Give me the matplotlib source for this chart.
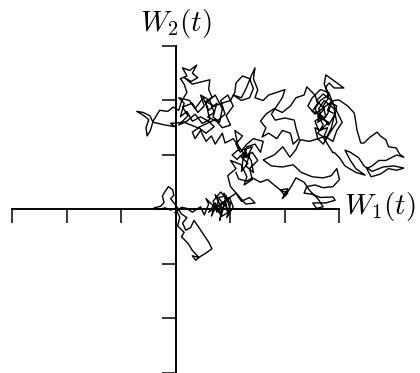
import matplotlib
matplotlib.use("Agg")
import matplotlib.pyplot as plt

plt.rcParams['mathtext.fontset'] = 'cm'

# path of the 2-d Brownian motion (W1, W2)
w1 = [0, 0.07, 0.03, 0.15, 0.1, 0.22, 0.3, 0.42, 0.3, 0.36, 0.45, 0.55, 0.66, 0.6, 0.5, 0.42, 0.33, 0.27, 0.18, 0.12, 0.2, 0.1, 0.02,
      -0.1, -0.2, -0.32, -0.4, -0.28, -0.22, -0.25, -0.2, -0.14, -0.06, -0.04, -0.1, -0.02, 0.05, -0.02, 0.1,
      0.2, 0.3, 0.45, 0.52, 0.6, 0.55, 0.7, 0.65, 0.78, 0.72, 0.85, 0.8, 0.9, 0.95, 0.88, 1.0, 0.93, 1.05, 0.98, 0.85, 0.75, 0.68, 0.82, 0.95,
      0.6, 0.72, 0.8, 0.88, 0.78, 0.92, 1.0, 0.85, 0.75,
      1.1, 1.2, 1.35, 1.45, 1.28, 1.15, 1.0,
      0.95, 1.1, 1.0, 1.2, 1.3, 1.25, 1.4, 1.35, 1.5, 1.4, 1.25, 1.3, 1.45, 1.55, 1.6, 1.42, 1.3, 1.18, 1.1, 1.22, 1.08, 1.15, 1.03, 1.12, 1.25,
      1.2, 1.32, 1.18, 1.35, 1.28, 1.42, 1.38, 1.25, 1.4, 1.3,
      1.05, 0.9, 0.85, 0.72, 0.65, 0.55, 0.45, 0.35, 0.3, 0.42, 0.55, 0.7, 0.6,
      0.45, 0.3, 0.2, 0.08, 0.15, 0.05, 0.25, 0.35, 0.5, 0.6, 0.75, 0.68, 0.8, 0.85, 0.72, 0.55, 0.62, 0.48, 0.35, 0.2, 0.05,
      0.1, 0.22, 0.12, 0.3, 0.4, 0.52, 0.45, 0.62, 0.7, 0.58, 0.75, 0.9, 0.82, 0.95, 1.05, 0.92, 1.0, 0.85, 0.72, 0.4, 0.15,
      -0.1, -0.02, -0.2, -0.42, -0.48, -0.6, -0.72, -0.6, -0.5, -0.55, -0.53, -0.47, -0.42, -0.3, -0.15, -0.05, 0.05,
      0.1, 0.2, 0.15, 0.08, 0.2, 0.12, 0.25, 0.38, 0.3, 0.4, 0.28, 0.15, 0.3, 0.5, 0.62, 0.6, 0.66, 0.55, 0.7, 0.84,
      1.0, 1.08, 1.1, 1.22, 1.35, 1.42, 1.35, 1.2, 1.05, 1.2, 1.3, 1.38, 1.45, 1.42, 1.5, 1.45, 1.6, 1.7, 1.85, 2.0, 1.95,
      1.85, 1.75, 1.82, 2.0, 2.17, 2.2, 2.26, 2.15, 2.1, 1.95, 1.85, 1.7, 1.58, 1.65, 1.55, 1.65, 1.8, 1.95, 2.1, 2.2, 2.35, 2.4,
      2.55, 2.6, 2.5, 2.65, 2.6, 2.75, 2.7, 2.8, 2.75, 2.81, 2.9, 3.08, 2.75, 2.72, 2.8, 2.65, 2.55, 2.7, 2.6, 2.75, 2.85, 2.9, 2.95, 2.85, 2.78, 2.68, 2.62, 2.72, 2.9, 2.95, 2.82, 2.7, 2.6, 2.55, 2.65, 2.8,
      2.6, 2.72, 2.58, 2.7, 2.85, 2.78, 2.92, 2.8, 2.68, 2.55, 2.62, 2.78, 2.72, 2.88, 2.95, 3.05, 2.9, 2.8, 2.65, 2.5, 2.42, 2.55, 2.75, 2.9,
      2.99, 3.15, 3.27, 3.3, 3.32, 3.39,
      3.45, 3.55, 3.69, 3.75, 3.85, 3.9, 4.04, 4.1, 4.18, 4.05, 3.95, 3.85, 3.72, 3.6, 3.5, 3.58, 3.75, 3.9, 4.05, 4.18, 4.0, 3.8, 3.6, 3.45, 3.35, 3.2, 3.1, 3.2, 3.3, 3.47, 3.3, 3.1, 3.0, 2.9,
      2.88, 2.7, 2.45, 2.28, 2.2, 2.09, 1.96, 1.8, 1.6, 1.75, 1.95, 2.15, 2.3, 2.5, 2.7, 2.85, 2.95, 3.0, 2.88, 2.7, 2.55, 2.4, 2.35, 2.5, 2.65, 2.88, 2.92, 2.75, 2.51, 2.58, 2.7, 2.6, 2.45, 2.35, 2.2, 2.1, 2.0, 1.92, 2.05, 1.95, 2.05, 1.91, 1.8, 1.68, 1.55, 1.4, 1.3, 1.15, 1.1]
w2 = [0, -0.14, -0.3, -0.42, -0.5, -0.62, -0.75, -0.88, -0.85, -0.93, -0.86, -0.8, -0.72, -0.6, -0.45, -0.33, -0.2, -0.33, -0.38, -0.25, -0.15, -0.08, 0.03,
      -0.01, 0.03, 0.0, 0.03, 0.06, 0.13, 0.25, 0.33, 0.42, 0.36, 0.26, 0.2, 0.1, 0.0, -0.06, 0.04,
      0.02, -0.05, 0.05, -0.1, 0.1, 0.2, 0.05, -0.12, 0.15, 0.27, 0.0, -0.2, 0.12, -0.05, 0.3, 0.1, -0.15, 0.05, 0.22, 0.12, -0.05, 0.15, 0.32, 0.18,
      -0.05, 0.12, -0.08, 0.08, 0.22, 0.25, -0.02, -0.12, 0.05,
      0.3, 0.15, 0.22, 0.12, 0.1, 0.25, 0.42,
      0.62, 0.75, 0.9, 0.82, 0.6, 0.45, 0.55, 0.75, 0.9, 1.05, 0.95, 1.15, 1.2, 1.05, 1.25, 1.3, 1.2, 1.05, 1.2, 1.35, 1.45, 1.1, 1.0, 0.92, 1.05,
      0.7, 0.85, 0.98, 1.0, 0.8, 0.68, 0.9, 1.1, 1.15, 0.95,
      1.3, 1.22, 1.4, 1.2, 1.35, 1.25, 1.45, 1.3, 1.42, 1.5, 1.4, 1.52, 1.62,
      1.7, 1.62, 1.8, 1.7, 1.95, 2.05, 2.0, 1.85, 2.05, 1.82, 1.95, 1.7, 1.6, 1.85, 2.1, 1.95, 1.65, 1.58, 1.75, 1.62, 1.55,
      1.6, 1.72, 1.88, 1.95, 1.78, 1.9, 2.1, 2.0, 1.78, 1.7, 1.62, 1.75, 2.0, 2.1, 1.9, 1.72, 1.55, 1.5, 1.65, 1.5, 1.6,
      1.58, 1.52, 1.55, 1.6, 1.72, 1.78, 1.8, 1.73, 1.65, 1.5, 1.35, 1.45, 1.62, 1.82, 1.8, 1.88, 1.82,
      1.98, 2.15, 2.3, 2.4, 2.45, 2.6, 2.55, 2.65, 2.5, 2.42, 2.35, 2.42, 2.3, 2.35, 2.38, 2.2, 2.06, 1.98, 1.9, 1.95,
      2.0, 2.15, 2.32, 2.45, 2.4, 2.22, 2.05, 2.0, 2.1, 2.05, 2.25, 2.45, 2.6, 2.4, 2.2, 2.05, 2.0, 2.1, 2.15, 2.2, 2.05,
      1.9, 1.75, 1.64, 1.68, 1.64, 1.5, 1.3, 1.2, 1.4, 1.45, 1.3, 1.4, 1.33, 1.5, 1.62, 1.75, 1.85, 1.78, 1.9, 2.05, 2.1, 2.25,
      2.1, 1.95, 1.8, 1.75, 1.6, 1.7, 1.9, 2.05, 2.25, 2.32, 2.23, 2.23, 2.47, 2.3, 2.1, 2.0, 1.85, 1.55, 1.4, 1.3, 1.5, 1.7, 1.9, 1.95, 1.75, 1.65, 1.85, 2.0, 1.85, 1.6, 1.4, 1.2, 1.3, 1.5, 1.45, 1.6,
      1.7, 1.85, 2.0, 2.12, 2.0, 1.82, 1.75, 1.55, 1.72, 1.62, 1.45, 1.5, 1.35, 1.25, 1.45, 1.6, 1.9, 2.15, 2.2, 2.05, 1.9, 1.75, 1.9, 2.0,
      2.01, 1.9, 1.77, 1.6, 1.46, 1.22,
      1.22, 1.32, 1.42, 1.35, 1.28, 1.15, 1.13, 1.02, 0.96, 1.0, 0.95, 0.9, 0.9, 0.8, 0.75, 0.6, 0.65, 0.75, 0.72, 0.76, 0.8, 0.78, 0.7, 0.8, 0.95, 1.05, 1.09, 0.9, 0.75, 0.63, 0.68, 0.8, 0.95, 1.05,
      1.04, 1.33, 1.25, 1.28, 1.1, 0.96, 1.15, 1.0, 0.91, 0.8, 0.78, 0.82, 0.68, 0.6, 0.58, 0.62, 0.75, 0.55, 0.42, 0.4, 0.45, 0.42, 0.3, 0.28, 0.22, 0.23, 0.17, 0.12, 0.12, 0.02, 0.05, 0.2, 0.35, 0.5, 0.58, 0.4, 0.25, 0.35, 0.3, 0.2, 0.38, 0.36, 0.45, 0.55, 0.5, 0.58, 0.52, 0.56, 0.68]

ticks = [-3, -2, -1, 0, 1, 2, 3]

fig = plt.figure(figsize=(4.2, 3.73), dpi=100)
ax = fig.add_axes([0, 0, 1, 1])
ax.plot(w1, w2, color='black', linewidth=1.0)

ax.set_xlim(-3.229, 4.477)
ax.set_ylim(-3.0, 3.844)

for s in ['top', 'right']:
    ax.spines[s].set_visible(False)
ax.spines['left'].set_position(('data', 0))
ax.spines['bottom'].set_position(('data', 0))
ax.spines['left'].set_bounds(-3, 3)
ax.spines['bottom'].set_bounds(-3, 3)
for s in ['left', 'bottom']:
    ax.spines[s].set_linewidth(1.4)
ax.set_xticks(ticks)
ax.set_yticks(ticks)
ax.set_xticklabels([])
ax.set_yticklabels([])
ax.tick_params(direction='out', length=10, width=1.1)
ax.patch.set_visible(False)

ax.text(0, 3.42, r'$W_2(t)$', ha='center', va='center', fontsize=21)
ax.text(3.08, 0.05, r'$W_1(t)$', ha='left', va='center', fontsize=21)

fig.savefig('out.png', dpi=100)
